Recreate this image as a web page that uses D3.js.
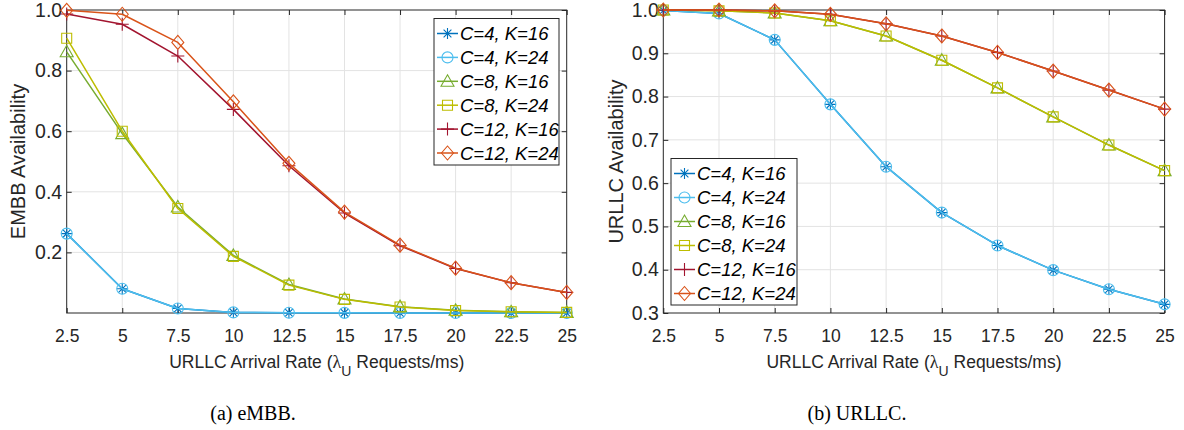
<!DOCTYPE html>
<html>
<head>
<meta charset="utf-8">
<script src="https://cdn.jsdelivr.net/npm/d3@7"></script>
<style>
  html, body { margin: 0; padding: 0; background: #fff; }
  svg { display: block; }
  text { font-family: "Liberation Sans", Arial, sans-serif; fill: #262626; }
</style>
</head>
<body>
<svg id="fig" width="1184" height="430"></svg>
<script>
// Arrival rates (λ_U, requests/ms)
const rates = [2.5, 5, 7.5, 10, 12.5, 15, 17.5, 20, 22.5, 25];

// Series labels
const seriesNames = ["C=4, K=16", "C=4, K=24", "C=8, K=16", "C=8, K=24", "C=12, K=16", "C=12, K=24"];

// eMBB availability
const embbC4K16  = [0.262, 0.080, 0.015, 0.002, 0.001, 0.0005, 0.0003, 0.0002, 0.0001, 0.0001];
const embbC4K24  = [0.262, 0.080, 0.015, 0.002, 0.001, 0.0005, 0.0003, 0.0002, 0.0001, 0.0001];
const embbC8K16  = [0.862, 0.592, 0.350, 0.190, 0.094, 0.046, 0.021, 0.009, 0.004, 0.002];
const embbC8K24  = [0.907, 0.600, 0.345, 0.187, 0.092, 0.045, 0.020, 0.008, 0.004, 0.002];
const embbC12K16 = [0.987, 0.953, 0.848, 0.672, 0.486, 0.330, 0.222, 0.147, 0.100, 0.068];
const embbC12K24 = [0.999, 0.986, 0.893, 0.697, 0.494, 0.333, 0.224, 0.148, 0.100, 0.068];

// URLLC availability
const urllcC4K16  = [0.999, 0.992, 0.931, 0.782, 0.638, 0.532, 0.456, 0.399, 0.355, 0.320];
const urllcC4K24  = [0.999, 0.992, 0.931, 0.782, 0.638, 0.532, 0.456, 0.399, 0.355, 0.320];
const urllcC8K16  = [1.000, 0.998, 0.993, 0.975, 0.940, 0.884, 0.820, 0.753, 0.688, 0.629];
const urllcC8K24  = [1.000, 0.998, 0.993, 0.975, 0.940, 0.884, 0.820, 0.753, 0.688, 0.629];
const urllcC12K16 = [1.000, 1.000, 0.998, 0.990, 0.968, 0.940, 0.902, 0.859, 0.815, 0.771];
const urllcC12K24 = [1.000, 1.000, 0.998, 0.990, 0.968, 0.940, 0.902, 0.859, 0.815, 0.771];

// Tick values
const xTicks = rates;
const embbYTicks = [0.2, 0.4, 0.6, 0.8, 1.0];
const urllcYTicks = [0.3, 0.4, 0.5, 0.6, 0.7, 0.8, 0.9, 1.0];

// Series styling
const colors  = ["#0072BD", "#4DBEEE", "#77AC30", "#BDBD00", "#A2142F", "#D95319"];
const markers = ["asterisk", "circle", "triangle", "square", "plus", "diamond"];

const svg = d3.select("#fig");
const axisColor = "#262626";
const gridColor = "#e3e3e3";

function markerPath(type) {
  switch (type) {
    case "asterisk": {
      const r = 5.5, d = r * Math.SQRT1_2;
      return `M${-r},0L${r},0M0,${-r}L0,${r}M${-d},${-d}L${d},${d}M${-d},${d}L${d},${-d}`;
    }
    case "circle": {
      const r = 5.5;
      return `M${r},0A${r},${r} 0 1,1 ${-r},0A${r},${r} 0 1,1 ${r},0Z`;
    }
    case "triangle": return "M0,-6.5L6.5,5L-6.5,5Z";
    case "square": return "M-5,-5L5,-5L5,5L-5,5Z";
    case "plus": return "M-6.5,0L6.5,0M0,-6.5L0,6.5";
    case "diamond": return "M0,-7L6,0L0,7L-6,0Z";
  }
}

function panel(opts) {
  const { left, right, top, bottom, yDomain, yTicks, yFmt, data, yLabel, yLabelX, caption, captionX, legend } = opts;
  const x = d3.scaleLinear().domain([2.5, 25]).range([left, right]);
  const y = d3.scaleLinear().domain(yDomain).range([bottom, top]);
  const g = svg.append("g");

  // grid
  g.append("g").selectAll("line").data(xTicks.slice(1, -1)).join("line")
    .attr("x1", d => x(d)).attr("x2", d => x(d)).attr("y1", top).attr("y2", bottom)
    .attr("stroke", gridColor).attr("stroke-width", 1);
  g.append("g").selectAll("line").data(yTicks.filter(v => v > yDomain[0] && v < yDomain[1])).join("line")
    .attr("x1", left).attr("x2", right).attr("y1", d => y(d)).attr("y2", d => y(d))
    .attr("stroke", gridColor).attr("stroke-width", 1);

  // axes with inward ticks on all four sides
  const tl = 5;
  const xb = d3.axisBottom(x).tickValues(xTicks).tickSize(-tl).tickPadding(tl + 12).tickFormat(d3.format("~g"));
  const xt = d3.axisTop(x).tickValues(xTicks).tickSize(-tl).tickFormat("");
  const yl = d3.axisLeft(y).tickValues(yTicks).tickSize(-tl).tickPadding(4.5).tickFormat(yFmt);
  const yr = d3.axisRight(y).tickValues(yTicks).tickSize(-tl).tickFormat("");
  const axes = [
    g.append("g").attr("transform", `translate(0,${bottom})`).call(xb),
    g.append("g").attr("transform", `translate(0,${top})`).call(xt),
    g.append("g").attr("transform", `translate(${left},0)`).call(yl),
    g.append("g").attr("transform", `translate(${right},0)`).call(yr)
  ];
  axes.forEach((a, i) => {
    a.select(".domain").remove();
    a.selectAll(".tick line").attr("stroke", axisColor);
    a.selectAll(".tick text").attr("fill", axisColor).style("font-size", i === 2 ? "19.5px" : "17.5px")
      .style("font-family", "'Liberation Sans', Arial, sans-serif");
  });
  g.append("rect").attr("x", left).attr("y", top).attr("width", right - left).attr("height", bottom - top)
    .attr("fill", "none").attr("stroke", axisColor).attr("stroke-width", 1);

  // series
  const line = d3.line().x((d, i) => x(rates[i])).y(d => y(d));
  data.forEach((vals, s) => {
    const sg = g.append("g");
    sg.append("path").attr("d", line(vals)).attr("fill", "none")
      .attr("stroke", colors[s]).attr("stroke-width", 1.5).attr("stroke-linejoin", "round");
    sg.selectAll("path.m").data(vals).join("path").attr("class", "m")
      .attr("transform", (d, i) => `translate(${x(rates[i])},${y(d)})`)
      .attr("d", markerPath(markers[s]))
      .attr("fill", "none").attr("stroke", colors[s]).attr("stroke-width", 1.1);
  });

  // axis labels
  const xl = g.append("text").attr("x", (left + right) / 2).attr("y", 368)
    .attr("text-anchor", "middle").style("font-size", "17.5px");
  xl.append("tspan").text("URLLC Arrival Rate (");
  xl.append("tspan").text("λ").style("font-family", "'Liberation Serif', serif").style("font-size", "18px");
  xl.append("tspan").text("U").attr("dy", 8).style("font-size", "14px");
  xl.append("tspan").text(" Requests/ms)").attr("dy", -8);

  g.append("text").attr("transform", `translate(${yLabelX},${(top + bottom) / 2}) rotate(-90)`)
    .attr("text-anchor", "middle").style("font-size", "20px").text(yLabel);

  // caption
  g.append("text").attr("x", captionX).attr("y", 420).attr("text-anchor", "middle")
    .style("font-family", "'Liberation Serif', 'Times New Roman', serif").style("font-size", "20px")
    .style("fill", "#000").text(caption);

  // legend
  const lg = g.append("g");
  lg.append("rect").attr("x", legend.x0).attr("y", legend.y0)
    .attr("width", legend.x1 - legend.x0).attr("height", legend.y1 - legend.y0)
    .attr("fill", "#fff").attr("stroke", axisColor).attr("stroke-width", 1);
  seriesNames.forEach((name, s) => {
    const cy = legend.rowY0 + s * legend.rowStep;
    lg.append("line").attr("x1", legend.x0 + 3).attr("x2", legend.x0 + 24).attr("y1", cy).attr("y2", cy)
      .attr("stroke", colors[s]).attr("stroke-width", 1.5);
    lg.append("path").attr("transform", `translate(${legend.x0 + 13.5},${cy})`)
      .attr("d", markerPath(markers[s])).attr("fill", "none").attr("stroke", colors[s]).attr("stroke-width", 1.1);
    lg.append("text").attr("x", legend.x0 + 26).attr("y", cy + 6.5)
      .style("font-size", "18.5px").style("font-style", "italic").style("fill", "#000").text(name);
  });
}

panel({
  left: 66.7, right: 566.7, top: 10, bottom: 313,
  yDomain: [0, 1], yTicks: embbYTicks, yFmt: d3.format(".1f"),
  data: [embbC4K16, embbC4K24, embbC8K16, embbC8K24, embbC12K16, embbC12K24],
  yLabel: "EMBB Availability", yLabelX: 25,
  caption: "(a) eMBB.", captionX: 253,
  legend: { x0: 434, x1: 559, y0: 18.5, y1: 165, rowY0: 33.5, rowStep: 23.9 }
});

panel({
  left: 663.3, right: 1164.6, top: 10, bottom: 313,
  yDomain: [0.3, 1], yTicks: urllcYTicks, yFmt: d3.format(".1f"),
  data: [urllcC4K16, urllcC4K24, urllcC8K16, urllcC8K24, urllcC12K16, urllcC12K24],
  yLabel: "URLLC Availability", yLabelX: 623,
  caption: "(b) URLLC.", captionX: 857,
  legend: { x0: 671, x1: 797, y0: 158.5, y1: 305, rowY0: 173.5, rowStep: 24 }
});
</script>
</body>
</html>
